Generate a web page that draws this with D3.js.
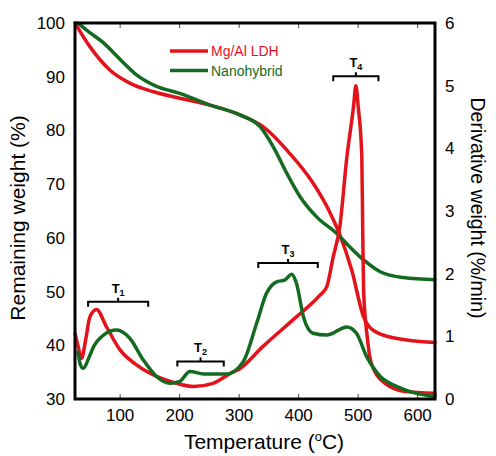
<!DOCTYPE html>
<html>
<head>
<meta charset="utf-8">
<script src="https://d3js.org/d3.v7.min.js"></script>
<style>
  body { margin: 0; background: #fff; }
  svg { font-family: "Liberation Sans", Arial, sans-serif; }
</style>
</head>
<body>
<svg width="496" height="456"></svg>
<script>
// weight curves (left axis, %)
var ldhWeight = [[25,100],[50,95.6],[84,91.2],[117,88.8],[157,87.2],[201,86.0],[252,84.7],[302,82.9],[341,80.7],[386,75.7],[425,70.2],[454,64.6],[470,60.6],[490,54.0],[510,45.3],[526,42.8],[564,41.3],[630,40.5]];
var hybWeight = [[30,100],[50,98.2],[73,96.3],[101,93.2],[129,90.3],[162,88.2],[201,86.9],[252,84.7],[302,82.9],[336,80.7],[358,77],[381,72],[403,67.7],[431,63.9],[465,60.8],[487,58.3],[510,55.9],[538,53.7],[577,52.6],[630,52.2]];

// derivative curves (right axis, %/min)
var ldhDeriv = [[25,1.05],[30,0.85],[36,0.65],[43,0.95],[50,1.31],[61,1.43],[78,1.15],[101,0.78],[129,0.54],[162,0.36],[196,0.25],[224,0.2],[257,0.25],[286,0.41],[300,0.47],[341,0.84],[397,1.31],[437,1.66],[448,1.79],[459,2.27],[470,2.75],[482,3.87],[493,4.66],[497,5.0],[501,4.66],[507,3.87],[508.5,2.7],[510,1.74],[516,1.0],[523,0.57],[546,0.25],[580,0.12],[630,0.09]];
var hybDeriv = [[30,0.75],[34,0.55],[39,0.49],[48,0.65],[56,0.83],[73,1.02],[95,1.10],[117,0.97],[140,0.62],[162,0.36],[185,0.25],[201,0.28],[218,0.44],[241,0.40],[280,0.40],[308,0.6],[330,1.2],[347,1.69],[364,1.87],[378,1.90],[389,1.99],[397,1.85],[409,1.31],[425,1.05],[448,1.02],[482,1.15],[498,1.05],[515,0.68],[538,0.36],[566,0.2],[599,0.09],[630,0.04]];

// bracket annotations: label, sub, from, to, level (right axis)
var brackets = [["T","1",47,148,1.55],["T","2",197,275,0.6],["T","3",333,433,2.17],["T","4",459,535,5.15]];

var xTicks = [100,200,300,400,500,600];
var leftTicks = [30,40,50,60,70,80,90,100];
var rightTicks = [0,1,2,3,4,5,6];

var red = "#e3121b", green = "#146a21";

var svg = d3.select("svg");
var L = 75, R = 435, T = 23, B = 399;

var x = d3.scaleLinear().domain([25,630]).range([L,R]);
var yL = d3.scaleLinear().domain([30,100]).range([B,T]);
var yR = d3.scaleLinear().domain([0,6]).range([B,T]);

var plot = svg.append("g");

function line(ys) {
  return d3.line().x(function(d){ return x(d[0]); }).y(function(d){ return ys(d[1]); }).curve(d3.curveMonotoneX);
}

[[ldhWeight,yL,red],[hybWeight,yL,green],[ldhDeriv,yR,red],[hybDeriv,yR,green]].forEach(function(s){
  plot.append("path").datum(s[0])
    .attr("d", line(s[1]))
    .attr("fill","none").attr("stroke",s[2]).attr("stroke-width",3.5)
    .attr("stroke-linejoin","round").attr("stroke-linecap","round");
});

// axes
var axBottom = svg.append("g").attr("transform","translate(0,"+B+")")
  .call(d3.axisBottom(x).tickValues(xTicks).tickSizeInner(-5).tickSizeOuter(0).tickPadding(10));
var axTop = svg.append("g").attr("transform","translate(0,"+T+")")
  .call(d3.axisTop(x).tickValues(xTicks).tickSizeInner(-5).tickSizeOuter(0).tickFormat(""));
var axLeft = svg.append("g").attr("transform","translate("+L+",0)")
  .call(d3.axisLeft(yL).tickValues(leftTicks).tickSize(0).tickPadding(10));
var axRight = svg.append("g").attr("transform","translate("+R+",0)")
  .call(d3.axisRight(yR).tickValues(rightTicks).tickFormat(d3.format("d")).tickSize(0).tickPadding(10));

[axBottom,axTop,axLeft,axRight].forEach(function(g){
  g.select(".domain").remove();
  g.selectAll(".tick line").attr("stroke","#444").attr("stroke-width",1);
  g.selectAll("text").attr("font-size",17).attr("fill","#000").attr("font-family","Liberation Sans, Arial, sans-serif");
});

svg.append("rect").attr("x",L).attr("y",T).attr("width",R-L).attr("height",B-T)
  .attr("fill","none").attr("stroke","#000").attr("stroke-width",3);

// brackets
brackets.forEach(function(b){
  var x0 = x(b[2]), x1 = x(b[3]), xm = (x0+x1)/2, yy = yR(b[4]);
  svg.append("path")
    .attr("d","M"+x0+","+(yy+5)+"V"+yy+"H"+x1+"V"+(yy+5)+"M"+xm+","+yy+"V"+(yy-4))
    .attr("fill","none").attr("stroke","#000").attr("stroke-width",2);
  var t = svg.append("text").attr("x",xm).attr("y",yy-9).attr("text-anchor","middle")
    .attr("font-size",13).attr("font-weight","bold");
  t.append("tspan").text(b[0]);
  t.append("tspan").attr("font-size",9).attr("dy",3).text(b[1]);
});

// legend
var legend = [["Mg/Al LDH",red],["Nanohybrid",green]];
legend.forEach(function(l,i){
  var yy = 51 + i*19.5;
  svg.append("line").attr("x1",170).attr("x2",208).attr("y1",yy).attr("y2",yy)
    .attr("stroke",l[1]).attr("stroke-width",3.5);
  svg.append("text").attr("x",211).attr("y",yy+5).attr("font-size",14).attr("fill",l[1]).text(l[0]);
});

// titles
svg.append("text").attr("transform","translate(25,218) rotate(-90)").attr("text-anchor","middle")
  .attr("font-size",21).text("Remaining weight (%)");
svg.append("text").attr("transform","translate(471,208) rotate(90)").attr("text-anchor","middle")
  .attr("font-size",19.5).text("Derivative weight (%/min)");
var xt = svg.append("text").attr("x",264).attr("y",449).attr("text-anchor","middle").attr("font-size",21);
xt.append("tspan").text("Temperature (");
xt.append("tspan").attr("font-size",13).attr("dy",-8).text("o");
xt.append("tspan").attr("dy",8).text("C)");
</script>
</body>
</html>
